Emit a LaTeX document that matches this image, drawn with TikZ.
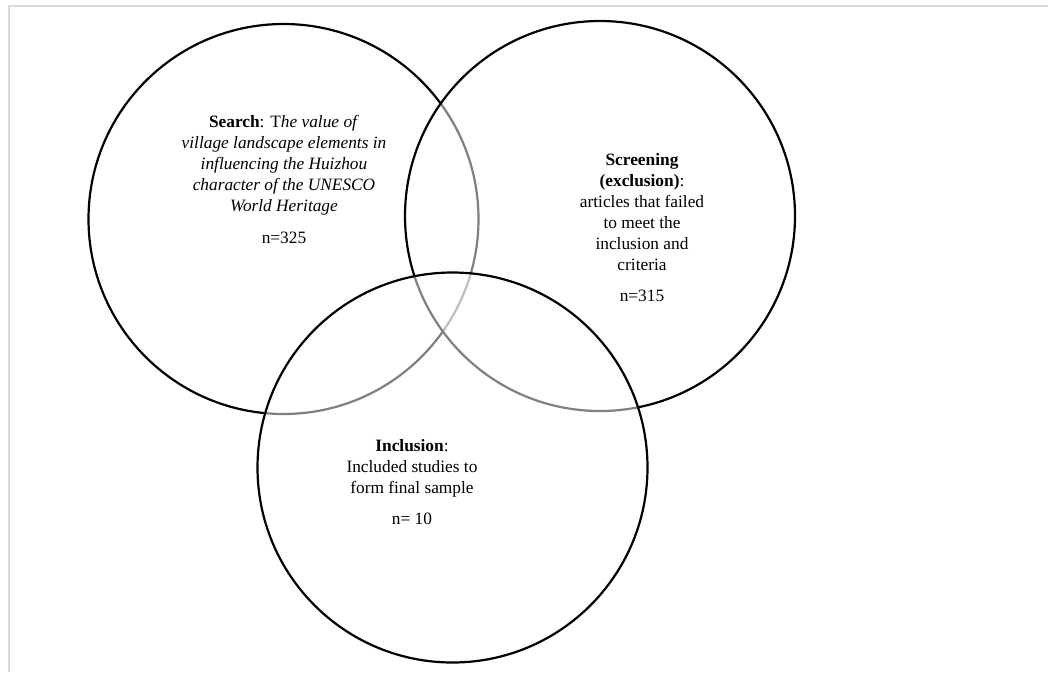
\documentclass[tikz,border=0pt]{standalone}
\usepackage{fontspec}
\setmainfont{Liberation Serif}
\begin{document}
\begin{tikzpicture}[x=0.75pt, y=-0.75pt,
            venn/.style={circle, draw=black, line width=1.65pt, fill=white, fill opacity=0.5, minimum size=292.5pt, inner sep=0pt},
            venntext/.style={align=center, inner sep=0pt, anchor=north, font=\fontsize{13}{15.75}\selectfont},
            pageframe/.style={draw=black!15, line width=1.5pt}
        ]
            \useasboundingbox (0,0) rectangle (1048,672);
            % Frame
            \draw[pageframe] (1048,5.5) -| (9,672);

            % Circles
            \node[venn] (search) at (283.5,219) {};
            \node[venn] (screen) at (600,216) {};
            \node[venn] (incl) at (452.5,467.5) {};

            % Texts
            \node[venntext] (searchtext) at (284,115) {\textbf{Search}: T\textit{he value of}\\ \textit{village landscape elements in}\\ \textit{influencing the Huizhou}\\ \textit{character of the UNESCO}\\ \textit{World Heritage}\\[8pt] n=325};
            \node[venntext] (screentext) at (642,153) {\textbf{Screening}\\ \textbf{(exclusion)}:\\ articles that failed\\ to meet the\\ inclusion and\\ criteria\\[8pt] n=315};
            \node[venntext] (incltext) at (412,439) {\textbf{Inclusion}:\\ Included studies to\\ form final sample\\[8pt] n= 10};
        \end{tikzpicture}
\end{document}
